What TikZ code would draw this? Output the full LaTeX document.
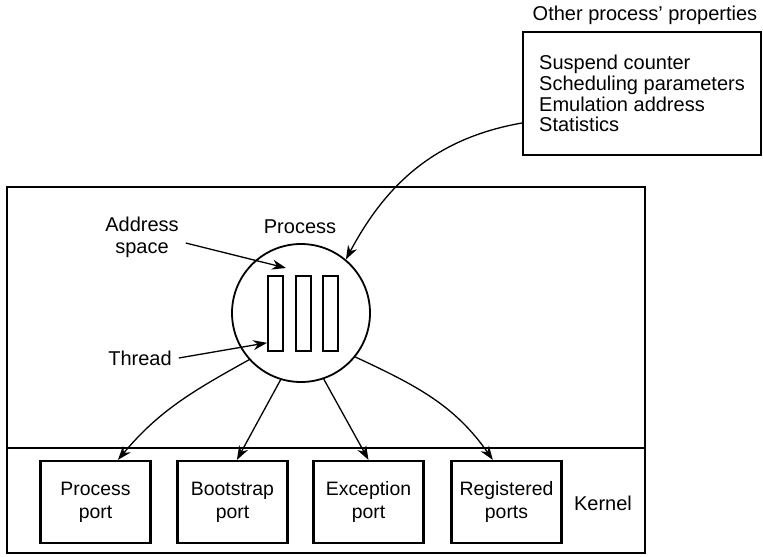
\documentclass[tikz,border=0pt]{standalone}
\usepackage{fontspec}
\setmainfont{Liberation Sans}
\usetikzlibrary{shapes,arrows.meta,positioning,calc}

\begin{document}
\begin{tikzpicture}[
    x=0.5pt, y=0.5pt,
    every node/.style={font=\fontsize{10}{10.4}\selectfont},
    portbox/.style={draw, line width=1.1pt, rectangle, minimum width=55pt, minimum height=41pt, align=center, font=\fontsize{9.7}{11.5}\selectfont},
    thread/.style={draw, line width=0.9pt, rectangle, minimum width=7.5pt, minimum height=37.5pt, inner sep=0pt},
    edge/.style={-{Stealth[length=7pt,width=5pt]}, line width=0.65pt},
    label/.style={align=center, font=\fontsize{10}{11}\selectfont},
]
\useasboundingbox (0,0) rectangle (763,-556);

% Task and kernel areas
\draw[line width=1pt] (7,-187) rectangle (645,-553);
\draw[line width=1pt] (7,-448) -- (645,-448);

% Other process' properties
\node[label] (othtitle) at (645,-15) {Other process' properties};
\node[draw, line width=1.1pt, rectangle, minimum width=119pt, minimum height=61.5pt, align=left] (props) at (642,-93.5) {
  Suspend counter\\
  Scheduling parameters\\
  Emulation address\\
  Statistics};

% Process with its threads
\node[draw, circle, line width=0.9pt, minimum size=69pt, inner sep=0pt] (proc) at (301,-313) {};
\node[thread] (thr1) at (275.5,-313.5) {};
\node[thread] (thr2) at (303.5,-313.5) {};
\node[thread] (thr3) at (330.5,-313.5) {};
\coordinate (aspc) at (286,-268);

\node[label] (proclbl) at (300,-227) {Process};
\node[label] (asplbl) at (142,-237) {Address\\space};
\node[label] (thrlbl) at (140,-358) {Thread};

% Kernel ports
\node[portbox] (pport) at (95.5,-502) {Process\\port};
\node[portbox] (bport) at (232.5,-502) {Bootstrap\\port};
\node[portbox] (eport) at (368.5,-502) {Exception\\port};
\node[portbox] (rport) at (506.5,-502) {Registered\\ports};
\node[label] (kernlbl) at (603,-503) {Kernel};

% Arrows
\draw[edge] (props.west |- 0,-123) to[out=190, in=62] (proc.50);
\draw[edge] (asplbl.east |- 0,-243) -- (aspc);
\draw[edge] (thrlbl.east) -- (thr1.254);
\draw[edge] (proc.222) to[out=209, in=50] (pport.62);
\draw[edge] (proc.253) -- (bport.84);
\draw[edge] (proc.289) -- (eport.90);
\draw[edge] (proc.321) to[out=-25, in=125] (rport.108);

\end{tikzpicture}
\end{document}
